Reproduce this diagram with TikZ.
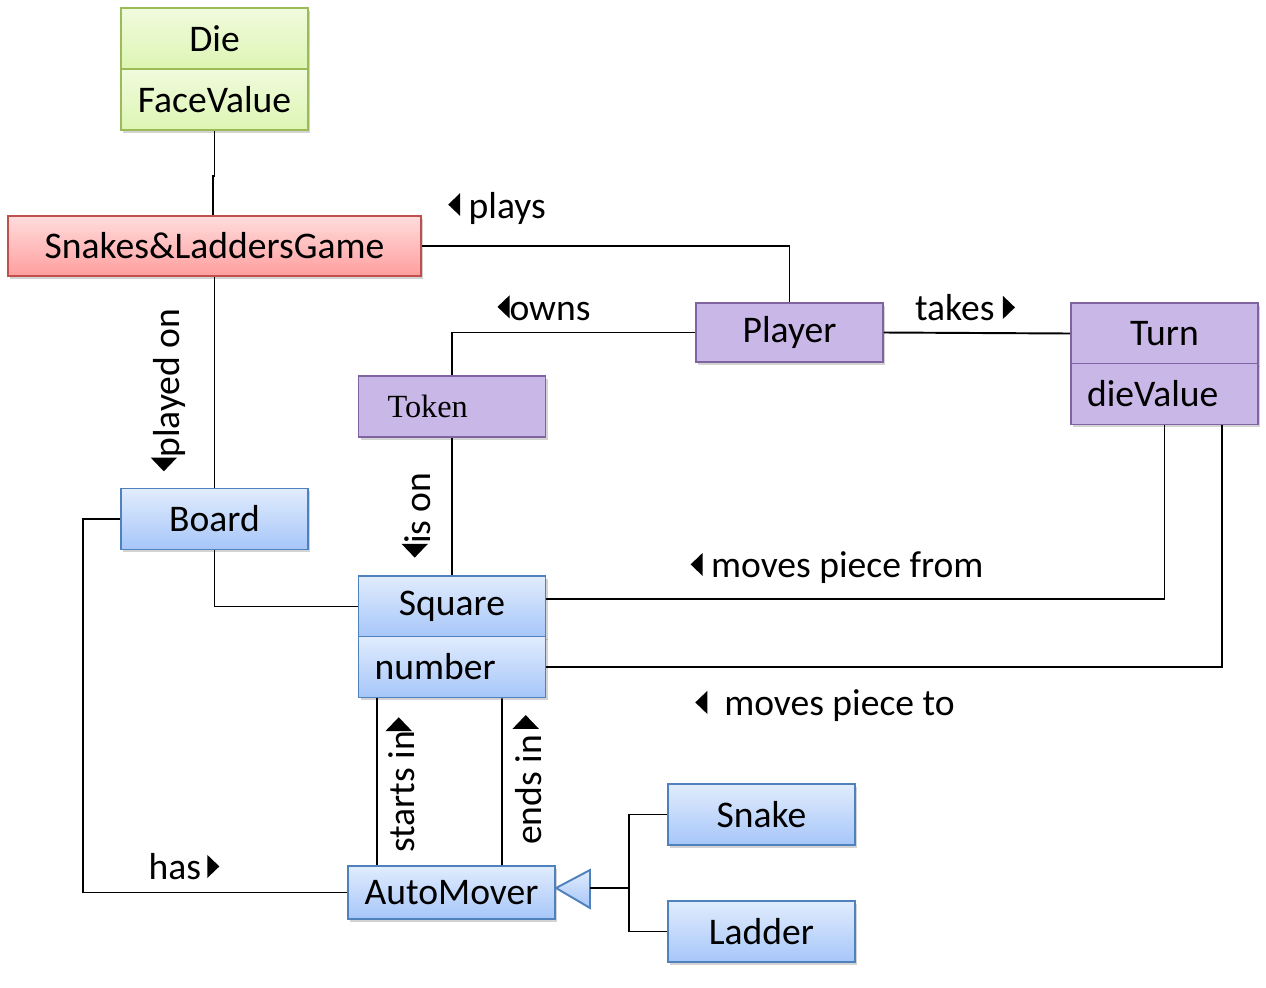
\documentclass[tikz,border=0pt]{standalone}
\usepackage{fontspec}
\setmainfont{Carlito}
\newfontfamily\tokfont{Liberation Serif}
\usetikzlibrary{positioning,shadows,calc}
\definecolor{gline}{HTML}{9BBB59}
\definecolor{gtop}{HTML}{F0FBDD}
\definecolor{gbot}{HTML}{DDF5B3}
\definecolor{rline}{HTML}{C0504D}
\definecolor{rtop}{HTML}{FFDCDC}
\definecolor{rbot}{HTML}{FF9E9E}
\definecolor{pline}{HTML}{8064A2}
\definecolor{pfill}{HTML}{C9B7E8}
\definecolor{bline}{HTML}{4F81BD}
\definecolor{btop}{HTML}{E1ECFD}
\definecolor{bbot}{HTML}{A6C6F9}
\tikzset{
  cls/.style={draw,line width=1.1pt,minimum width=3.74cm,minimum height=1.22cm,inner sep=0pt,
    font=\fontsize{21.4}{25}\selectfont,align=center,
    drop shadow={shadow xshift=1.2pt,shadow yshift=-1.6pt,opacity=0.35}},
  gcls/.style={cls,draw=gline,top color=gtop,bottom color=gbot},
  rcls/.style={cls,draw=rline,top color=rtop,bottom color=rbot},
  pcls/.style={cls,draw=pline,fill=pfill},
  bcls/.style={cls,draw=bline,top color=btop,bottom color=bbot},
  attr/.style={text width=3.74cm,align=left},
  lab/.style={font=\fontsize{21.4}{25}\selectfont,inner sep=0pt},
  conn/.style={draw=black,line width=1.1pt},
}
% small filled direction marks
\newcommand{\lt}[1][1]{\tikz[baseline=0pt,x=#1cm,y=#1cm]\fill[black] (0,0.27) -- (0.24,0.5) -- (0.24,0.04) -- cycle;}
\newcommand{\rt}[1][1]{\tikz[baseline=0pt,x=#1cm,y=#1cm]\fill[black] (0.24,0.27) -- (0,0.5) -- (0,0.04) -- cycle;}

\begin{document}
\begin{tikzpicture}[x=0.02cm,y=-0.02cm]
\useasboundingbox (0,0) rectangle (1266,987);

% classes
\node[gcls] (die) at (214.5,38.5) {Die};
\node[gcls] (dieval) at (214.5,99.5) {FaceValue};
\node[rcls,minimum width=8.26cm,minimum height=1.2cm] (game) at (214.5,246) {Snakes\&LaddersGame};
\node[pcls,minimum height=1.18cm] (player) at (789.5,332.5) {Player};
\node[pcls] (turn) at (1164.5,333.5) {Turn};
\node[pcls,attr] (turnval) at (1164.5,394) {\hspace*{0.32cm}dieValue};
\node[pcls,attr] (token) at (452,406.5) {\hspace*{0.58cm}{\tokfont\fontsize{18.4}{22}\selectfont Token}};
\node[bcls] (board) at (214.5,519) {Board};
\node[bcls] (square) at (452,606.5) {Square};
\node[bcls,attr] (squarenum) at (452,667) {\hspace*{0.32cm}number};
\node[bcls,minimum width=4.14cm,minimum height=1.06cm] (mover) at (451.5,892.5) {AutoMover};
\node[bcls] (snake) at (761.5,814.5) {Snake};
\node[bcls] (ladder) at (761.5,931.5) {Ladder};

% generalization
\draw[draw=bline,line width=1.1pt,top color=btop,bottom color=bbot] (556,888) -- (590,870) -- (590,908) -- cycle;
\coordinate (genbase) at (590,888);
\coordinate (fork) at (629,888);

% associations
\draw[conn] (dieval.south) -- ++(0,45) -| ($(game.north)+(-1.5,0)$);
\draw[conn] (game.east) -| (player.north);
\draw[conn] (game.south) -- (board.north);
\draw[conn] (player.west) -| (token.north);
\draw[conn] (player.east) -- (turn.west);
\draw[conn] (token.south) -- (square.north);
\draw[conn] (board.south) |- (square.west);
\draw[conn] ($(square.east)+(0,-7.5)$) -| (turnval.south);
\draw[conn] (squarenum.east) -| ($(turnval.south)+(57.5,0)$);
\draw[conn] (board.west) -- ++(-37,0) |- (mover.west);
\draw[conn] ($(squarenum.south)+(-75,0)$) -- ($(mover.north)+(-74.5,0)$);
\draw[conn] ($(squarenum.south)+(50,0)$) -- ($(mover.north)+(50.5,0)$);
\draw[conn] (genbase) -- (fork) |- (snake.west);
\draw[conn] (fork) |- (ladder.west);

% role labels
\node[lab] (lplays) at (497,208) {\lt\ plays};
\node[lab] (lowns) at (544,308) {\lt owns};
\node[lab] (ltakes) at (965,308) {takes \rt};
\node[lab,rotate=90] (lplayed) at (168,390) {\lt[1.15]played on};
\node[lab,rotate=90] (lison) at (416,515) {\lt[1.15]is on};
\node[lab] (lfrom) at (837,568) {\lt\ moves piece from};
\node[lab] (lto) at (825,706) {\lt\ \ moves piece to};
\node[lab,rotate=90] (lstarts) at (400,785) {starts in\rt[1.15]};
\node[lab,rotate=90] (lends) at (527,780) {ends in\,\rt[1.15]};
\node[lab] (lhas) at (184,867) {has\,\rt};
\end{tikzpicture}
\end{document}
